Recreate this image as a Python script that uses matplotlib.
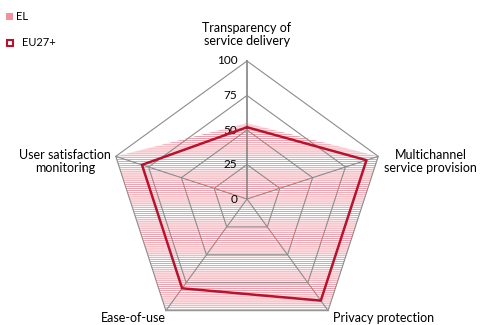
import numpy as np
import matplotlib.pyplot as plt

plt.rcParams['font.family'] = ['Lato', 'DejaVu Sans']
plt.rcParams['hatch.linewidth'] = 0.6

categories = ["Transparency of\nservice delivery", "Multichannel\nservice provision",
              "Privacy protection", "Ease-of-use", "User satisfaction\nmonitoring"]
el = [55, 100, 100, 100, 100]
eu27 = [52, 91, 91, 80, 80]
levels = [0, 25, 50, 75, 100]

n = len(categories)
ang = np.deg2rad(90 - 72 * np.arange(n))


def xy(vals):
    v = np.asarray(vals, dtype=float)
    x = v * np.cos(ang)
    y = v * np.sin(ang)
    return np.append(x, x[0]), np.append(y, y[0])


fig = plt.figure(figsize=(4.94, 3.25), dpi=100)
ax = fig.add_axes([0, 0, 1, 1])
ax.set_xlim(-179, 179)
ax.set_ylim(-91.3, 144.2)
ax.axis('off')

# EL area, hatched
ex, ey = xy(el)
ax.fill(ex, ey, facecolor='none', edgecolor='#f08a98', hatch='--------', lw=0, zorder=1)

# grid
for lv in levels[1:]:
    gx, gy = xy([lv] * n)
    ax.plot(gx, gy, color='#8c8c8c', lw=0.8, zorder=2)
for a in ang[1:]:
    ax.plot([0, 100 * np.cos(a)], [0, 100 * np.sin(a)], color='#8c8c8c', lw=0.8, zorder=2)
ax.plot([0, 0], [0, 100], color='#8c8c8c', lw=1.3, zorder=2)
for lv in levels:
    ax.text(-7, lv, str(lv), ha='right', va='center', fontsize=8.5, zorder=3)

# EU27+ line
ux, uy = xy(eu27)
ax.plot(ux, uy, color='#b5132e', lw=1.8, zorder=4)

# category labels
fs = 9
ax.text(0, 110, categories[0], ha='center', va='bottom', fontsize=fs, linespacing=1.1)
ax.text(133, 27, categories[1], ha='center', va='center', fontsize=fs, linespacing=1.1)
ax.text(62, -86, categories[2], ha='left', va='center', fontsize=fs)
ax.text(-59, -86, categories[3], ha='right', va='center', fontsize=fs)
ax.text(-132, 27, categories[4], ha='center', va='center', fontsize=fs, linespacing=1.1)

# legend
fig.patches.append(plt.Rectangle((0.012, 0.938), 0.014, 0.022, transform=fig.transFigure,
                                 facecolor='#f3909e', edgecolor='none'))
fig.text(0.033, 0.949, "EL", ha='left', va='center', fontsize=8)
fig.patches.append(plt.Rectangle((0.014, 0.86), 0.012, 0.018, transform=fig.transFigure,
                                 facecolor='white', edgecolor='#b5132e', lw=1.5))
fig.text(0.044, 0.869, "EU27+", ha='left', va='center', fontsize=8)

fig.savefig('out.png', dpi=100)
